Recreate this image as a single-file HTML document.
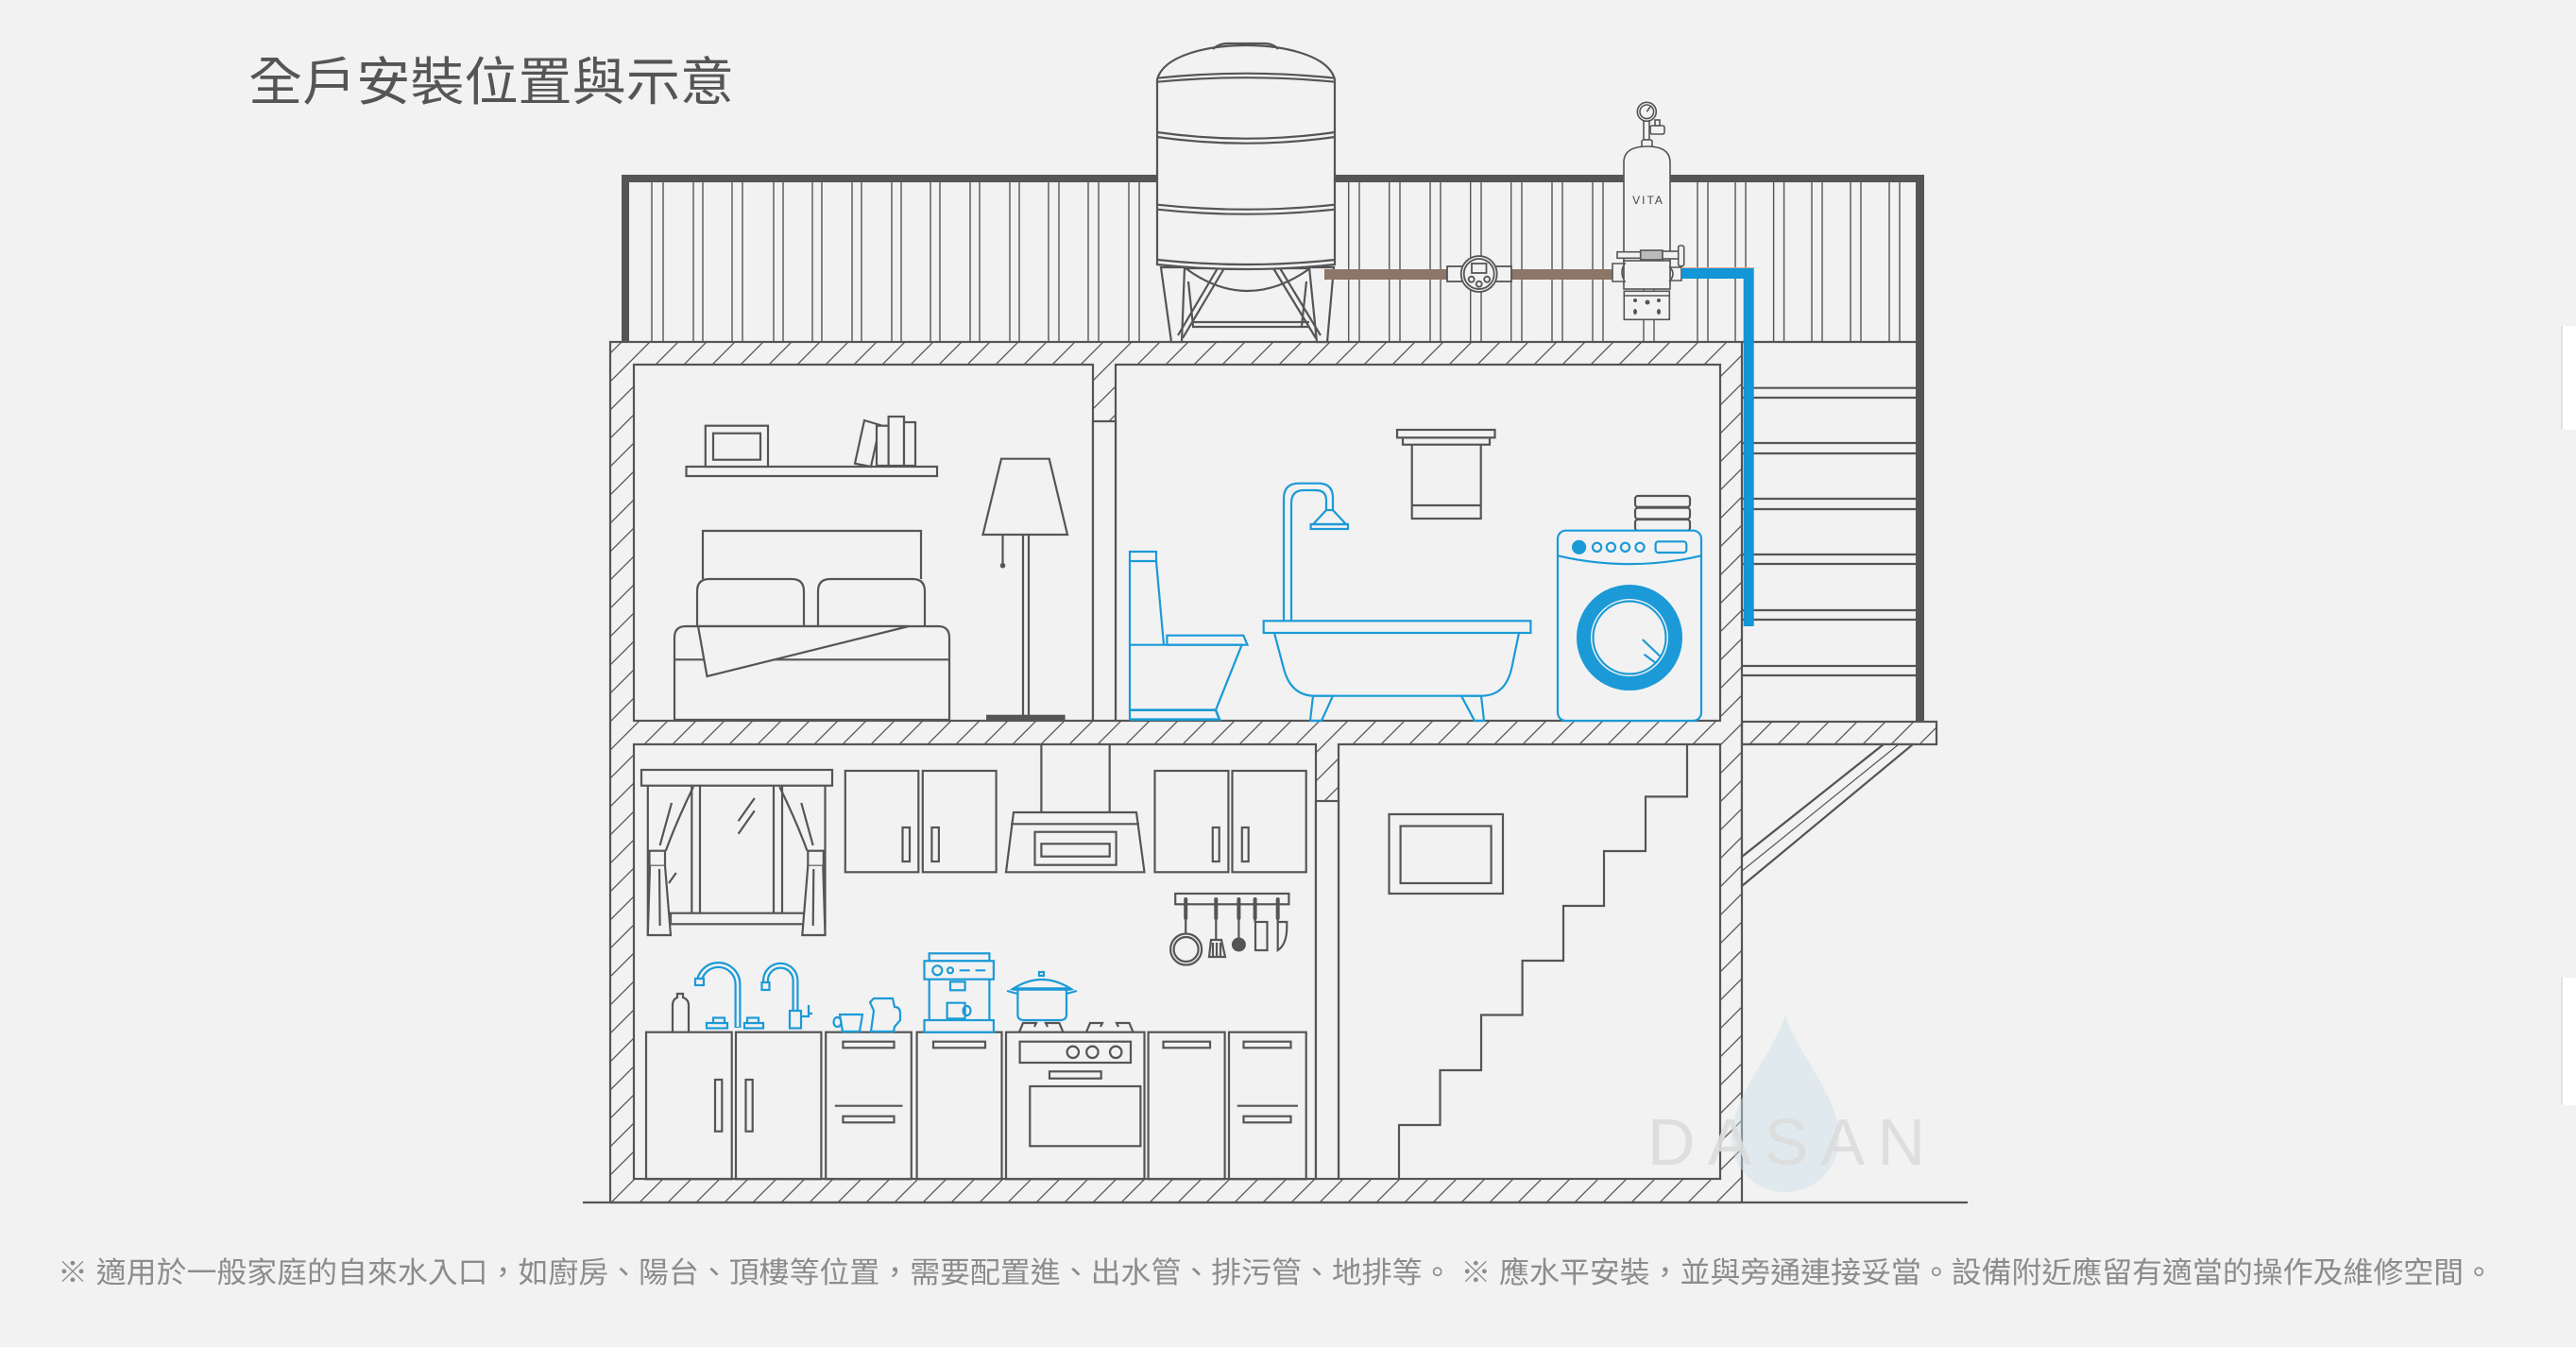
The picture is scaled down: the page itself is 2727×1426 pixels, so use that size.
<!DOCTYPE html>
<html><head><meta charset="utf-8">
<style>
html,body{margin:0;padding:0;background:#f2f2f2;width:2727px;height:1426px;overflow:hidden}
svg{display:block}
</style></head><body>
<svg width="2727" height="1426" viewBox="0 0 2727 1426" xmlns="http://www.w3.org/2000/svg">
<defs>
<pattern id="h" patternUnits="userSpaceOnUse" width="30" height="30">
<path d="M-5,35 L35,-5 M-5,5 L5,-5 M25,35 L35,25" stroke="#555" stroke-width="1.3" fill="none"/>
</pattern>
</defs>
<rect width="2727" height="1426" fill="#f2f2f2"/>

<!-- right edge strips -->
<rect x="2712" y="345" width="15" height="110" fill="#fff"/>
<line x1="2712" y1="345" x2="2712" y2="455" stroke="#e2e2e2" stroke-width="2"/>
<rect x="2712" y="1035" width="15" height="135" fill="#fff"/>
<line x1="2712" y1="1035" x2="2712" y2="1170" stroke="#e2e2e2" stroke-width="2"/>

<!-- title -->
<text x="263" y="106" font-family="'Liberation Sans','Noto Sans CJK TC',sans-serif" font-size="55" fill="#555" textLength="514" lengthAdjust="spacingAndGlyphs">全戶安裝位置與示意</text>

<!-- railing verticals -->
<path stroke="#555" stroke-width="1.4" fill="none" d="M690,193V362M702,193V362M734,193V362M744,193V362M775,193V362M786,193V362M819,193V362M829,193V362M860,193V362M870,193V362M902,193V362M912,193V362M944,193V362M954,193V362M985,193V362M995,193V362M1027,193V362M1037,193V362M1069,193V362M1079,193V362M1110,193V362M1121,193V362M1152,193V362M1163,193V362M1195,193V362M1206,193V362M1427.7,193V362M1439,193V362M1470.7,193V362M1482,193V362M1514,193V362M1525,193V362M1556.7,193V362M1568,193V362M1599.7,193V362M1611,193V362M1643,193V362M1654,193V362M1686,193V362M1697,193V362M1740,193V362M1751,193V362M1797,193V362M1808,193V362M1837,193V362M1848,193V362M1877.6,193V362M1888.6,193V362M1918,193V362M1929,193V362M1959,193V362M1970,193V362M2000,193V362M2011,193V362"/>
<!-- railing frame -->
<rect x="658" y="185" width="1379" height="8" fill="#555"/>
<rect x="658" y="185" width="8" height="177" fill="#555"/>
<rect x="2028" y="185" width="9" height="579" fill="#555"/>
<line x1="1844" y1="362" x2="2028" y2="362" stroke="#555" stroke-width="2.2"/>

<!-- ladder bars -->
<path stroke="#555" stroke-width="2.2" fill="none" d="M1844,410.7H2028M1844,421H2028M1844,469H2028M1844,480H2028M1844,528H2028M1844,539H2028M1844,587H2028M1844,597H2028M1844,646H2028M1844,656H2028M1844,705H2028M1844,715H2028"/>

<!-- house -->
<g stroke="#555" stroke-width="2.2">
<rect x="646" y="362" width="1198" height="911" fill="url(#h)"/>
<rect x="671" y="386" width="486" height="377" fill="#f2f2f2"/>
<rect x="1181" y="386" width="640" height="377" fill="#f2f2f2"/>
<rect x="1157" y="446" width="24" height="317" fill="#f2f2f2"/>
<rect x="671" y="788" width="722" height="460" fill="#f2f2f2"/>
<rect x="1417" y="788" width="404" height="460" fill="#f2f2f2"/>
<rect x="1393" y="848" width="24" height="400" fill="#f2f2f2"/>
<rect x="1844" y="764" width="206" height="24" fill="url(#h)"/>
<path d="M1844,788 H1994 L1844,907 Z" fill="#f2f2f2"/>
<path d="M1994,788 H2025 L1844,938 V907 Z" fill="#f2f2f2"/>
<line x1="2010" y1="788" x2="1844" y2="922" stroke-width="1.2"/>
<line x1="617" y1="1273" x2="2083" y2="1273"/>
</g>

<!-- tank -->
<g stroke="#555" stroke-width="2.2" fill="#f2f2f2">
<line x1="1258" y1="298" x2="1263" y2="345" fill="none"/>
<line x1="1383" y1="298" x2="1378" y2="345" fill="none"/>
<path d="M1255,284 Q1320,332 1387,284 Z"/>
<path d="M1229,283 H1254 L1251,362 H1240 Z"/>
<path d="M1386,283 H1412 L1405,362 H1394 Z"/>
<path d="M1296,284 L1252,358 M1289,284 L1247,355 M1348,284 L1393,358 M1355,284 L1398,355" fill="none"/>
<path d="M1262,341 H1386 M1262,346 H1386" fill="none"/>
<path d="M1225,280 V84 C1232,58 1280,48 1319,48 C1358,48 1406,58 1413,84 V280 Q1319,290 1225,280 Z"/>
<path d="M1284,52 Q1290,46 1300,46 H1338 Q1348,46 1353,52" fill="none"/>
<path fill="none" d="M1225,82.7 Q1319,72.7 1413,82.7 M1225,86.7 Q1319,77.7 1413,86.7 M1225,140 Q1319,153.4 1413,140 M1225,145 Q1319,158.4 1413,145 M1225,216.7 Q1319,226.7 1413,216.7 M1225,221.7 Q1319,231.7 1413,221.7 M1225,275 Q1319,285 1413,275"/>
</g>

<!-- brown pipe & meter -->
<rect x="1402" y="285" width="306" height="11" fill="#8c7667"/>
<g stroke="#555" stroke-width="1.8" fill="#f2f2f2">
<rect x="1532" y="282" width="68" height="16"/>
<circle cx="1565.7" cy="290" r="19"/>
<circle cx="1565.7" cy="290" r="16" fill="none"/>
<rect x="1558" y="279" width="15.5" height="10"/>
<circle cx="1557.7" cy="295.7" r="3"/>
<circle cx="1565.7" cy="300.7" r="3"/>
<circle cx="1574.2" cy="295.7" r="3"/>
</g>

<!-- filter -->
<g stroke="#555" stroke-width="1.6" fill="#f2f2f2">
<rect x="1740" y="127" width="6" height="21"/>
<rect x="1747" y="133" width="15" height="9" rx="2"/>
<rect x="1752" y="127" width="5" height="6"/>
<circle cx="1743.3" cy="118.3" r="10"/>
<circle cx="1743.3" cy="118.3" r="7.3"/>
<line x1="1743.3" y1="118.3" x2="1747" y2="113"/>
<rect x="1738" y="148" width="11" height="8" rx="2"/>
<path d="M1719,300 V172 Q1719,155 1743.8,155 Q1768,155 1768,172 V300 Z"/>
<rect x="1719" y="276" width="49" height="30"/>
<path d="M1707,279 H1720 Q1714,288 1720,298 H1707 Z"/>
<path d="M1768,283 Q1774,290 1768,297 H1780 V283 Z"/>
<rect x="1712" y="266.7" width="25" height="6.6"/>
<rect x="1736.7" y="265" width="23.3" height="10" fill="#bbb"/>
<rect x="1760" y="266" width="17" height="8"/>
<rect x="1776.7" y="260" width="6" height="21.7" rx="2"/>
<rect x="1719.3" y="308.3" width="48" height="30"/>
<line x1="1719.3" y1="313" x2="1767.3" y2="313"/>
</g>
<g fill="#555">
<circle cx="1731" cy="318" r="2"/><circle cx="1744" cy="320" r="2.5"/><circle cx="1756" cy="318" r="2"/>
<ellipse cx="1731" cy="330" rx="2" ry="3"/><ellipse cx="1756" cy="330" rx="2" ry="3"/>
</g>
<text x="1745" y="216" text-anchor="middle" font-family="'Liberation Sans',sans-serif" font-size="12" letter-spacing="2" fill="#444">VITA</text>

<!-- blue pipe -->
<path d="M1780,284 H1856.7 V663 H1845.7 V295 H1780 Z" fill="#1296d6"/>
<line x1="1780" y1="283.5" x2="1857" y2="283.5" stroke="#e6a58e" stroke-width="1"/>

<!-- bedroom -->
<g stroke="#555" stroke-width="2.2" fill="#f2f2f2">
<rect x="726.5" y="494" width="265.5" height="10"/>
<rect x="746.8" y="450.7" width="66.2" height="43.3"/>
<rect x="755" y="458.7" width="50" height="28"/>
<path d="M915,445 L931.7,450 L922,494 L905,490.7 Z"/>
<rect x="928" y="450.7" width="12.6" height="42.3"/>
<rect x="940.6" y="441" width="16.4" height="52"/>
<rect x="957" y="447" width="12" height="46"/>
<path d="M744,613 V562 H975 V613" fill="none"/>
<path d="M738,663 V626 Q738,613 751,613 H838 Q851,613 851,626 V663"/>
<path d="M866,663 V626 Q866,613 879,613 H966 Q979,613 979,626 V663"/>
<path d="M714,762 V675 Q714,663 726,663 H993 Q1005,663 1005,675 V762 Z"/>
<line x1="714" y1="698.3" x2="1005" y2="698.3"/>
<path d="M739,663 L962,663 L748.5,716 Z"/>
<path d="M1060,485.7 H1110.7 L1130,566 H1040.5 Z"/>
<path d="M1083,566 V757 M1089,566 V757 M1061.5,566 V597" fill="none"/>
</g>
<circle cx="1061.5" cy="598.7" r="2.8" fill="#555"/>
<rect x="1044" y="756.7" width="83.6" height="6.5" fill="#555"/>

<!-- bathroom -->
<g stroke="#555" stroke-width="2.2" fill="#f2f2f2">
<rect x="1494.7" y="466" width="73" height="83"/>
<line x1="1494.7" y1="535" x2="1567.7" y2="535"/>
<rect x="1485" y="463.3" width="92" height="7.4"/>
<rect x="1479" y="455" width="103.5" height="8.3"/>
<rect x="1731" y="525" width="58" height="11.7" rx="3"/>
<rect x="1731" y="537.7" width="58" height="11.7" rx="3"/>
<rect x="1731" y="550" width="58" height="11.7" rx="3"/>
</g>
<g stroke="#1b9ad7" stroke-width="2.2" fill="none">
<rect x="1196" y="584" width="28" height="10"/>
<path d="M1196,594 V761.7 M1224,594 L1232,682.7"/>
<path d="M1235.4,682.7 V672.7 H1316.3 L1320.5,682.7 Z"/>
<path d="M1196,682.7 H1314.6 L1287,751.7"/>
<path d="M1196,751.7 H1287 L1291,761.7 H1196" stroke-width="2.6"/>
<path d="M1359,657 V528 Q1359,511.7 1375,511.7 H1396 Q1411,511.7 1411,527 V540"/>
<path d="M1367,657 V533 Q1367,519 1380,519 H1393 Q1404,519 1404,530 V540"/>
<path d="M1404,540 H1411 L1425,555 H1390 Z"/>
<rect x="1387.6" y="555" width="39.4" height="5"/>
<rect x="1337.7" y="657.3" width="282.7" height="12.7" fill="#f2f2f2"/>
<path d="M1349,670 L1358.7,706.7 Q1366,736.7 1392,736.7 H1568 Q1594,736.7 1600.4,706.7 L1608,670"/>
<path d="M1390,736.7 H1411 L1399,763 H1387 Z"/>
<path d="M1547,736.7 H1568 L1571,763 H1561 Z"/>
<rect x="1649" y="561.7" width="152" height="201.3" rx="8.6" fill="#f2f2f2"/>
<path d="M1649,588.3 Q1725,606 1801,588.3"/>
<circle cx="1690.6" cy="579.3" r="4.6"/>
<circle cx="1705.4" cy="579.3" r="4.6"/>
<circle cx="1720.5" cy="579.3" r="4.6"/>
<circle cx="1736" cy="579.3" r="4.6"/>
<rect x="1752.6" y="573.3" width="32.7" height="11.7" rx="3"/>
<circle cx="1725" cy="675" r="48.5" stroke-width="15"/>
<circle cx="1725" cy="675" r="38.5"/>
<path d="M1738.8,677 L1757.7,695 M1740.5,692.7 L1752.6,701.7"/>
</g>
<circle cx="1671.6" cy="579.3" r="7.6" fill="#1b9ad7"/>

<!-- kitchen -->
<g stroke="#555" stroke-width="2.2" fill="none">
<rect x="679" y="815" width="202" height="16.7" fill="#f2f2f2"/>
<path d="M685.8,831.7 V990 M873.5,831.7 V990"/>
<path d="M732.3,831.7 V966.7 M741,831.7 V966.7 M819,831.7 V966.7 M828,831.7 V966.7"/>
<rect x="710" y="966.7" width="141" height="11.6"/>
<path d="M734,833 Q716,870 704.8,900.7"/>
<rect x="687.5" y="900.7" width="16.5" height="16" fill="#f2f2f2"/>
<path d="M688,916.7 L685.8,990 H710 L704,916.7" fill="#f2f2f2"/>
<path d="M711,850 L698.6,895 M698,920 L698.6,980 M715.8,924 L708,935"/>
<path d="M825.3,833 Q843.3,870 854.5,900.7"/>
<rect x="855.3" y="900.7" width="16.5" height="16" fill="#f2f2f2"/>
<path d="M871.3,916.7 L873.5,990 H849.3 L855.3,916.7" fill="#f2f2f2"/>
<path d="M848.3,850 L860.7,895 M861.3,920 L860.7,980"/>
<path d="M798.8,845 L781.6,869.3 M798.8,858.3 L781.6,882.7"/>
<rect x="894.8" y="816" width="77.5" height="107.3"/>
<rect x="976.8" y="816" width="77.8" height="107.3"/>
<rect x="955.5" y="876" width="7.5" height="36"/>
<rect x="986.4" y="876" width="7.5" height="36"/>
<path d="M1102.4,788 V860 M1174.7,788 V860"/>
<path d="M1073,860 H1203 L1211.5,923.3 H1065 Z"/>
<line x1="1070" y1="872.3" x2="1206" y2="872.3"/>
<rect x="1095.5" y="880.7" width="86.1" height="35"/>
<rect x="1102.4" y="893.3" width="72.3" height="13.4"/>
<rect x="1222.5" y="816" width="77.9" height="107.3"/>
<rect x="1304.5" y="816" width="78.2" height="107.3"/>
<rect x="1283.8" y="876" width="6.9" height="36"/>
<rect x="1314.8" y="876" width="6.9" height="36"/>
<rect x="1244.2" y="946" width="120.2" height="11.3"/>
<path d="M1255.2,973 V989 M1287.3,973 V995 M1311.4,973 V993 M1328.6,973 V976 M1352.7,973 V976"/>
<circle cx="1255.6" cy="1005" r="16.5"/>
<circle cx="1255.6" cy="1005" r="13"/>
<path d="M1282,995 H1293 L1297,1013 H1280 Z M1284,998 V1012 M1288,998 V1012 M1292,998 V1012"/>
<rect x="1329" y="976" width="12.5" height="30"/>
<path d="M1352.7,976 V1006 Q1362,1000 1362.3,982 V976 Z"/>
<rect x="684" y="1092.7" width="90.7" height="155.6"/>
<rect x="779" y="1092.7" width="90.4" height="155.6"/>
<rect x="757" y="1143" width="7.3" height="54.7"/>
<rect x="789.5" y="1143" width="7.2" height="54.7"/>
<rect x="874.2" y="1092.7" width="90.6" height="155.6"/>
<rect x="892.4" y="1102.7" width="54.1" height="6.6"/>
<line x1="883.8" y1="1170.7" x2="955.5" y2="1170.7"/>
<rect x="892.4" y="1181.7" width="54.1" height="6.6"/>
<rect x="970.6" y="1092.7" width="89.9" height="155.6"/>
<rect x="988" y="1102.7" width="55" height="6.6"/>
<rect x="1065" y="1092.7" width="146.5" height="155.6"/>
<rect x="1079.6" y="1102.7" width="117.4" height="22.3"/>
<circle cx="1135.8" cy="1113.8" r="6.2"/>
<circle cx="1156.4" cy="1113.8" r="6.2"/>
<circle cx="1181.2" cy="1113.8" r="6.2"/>
<rect x="1111" y="1134.3" width="54.7" height="7.4"/>
<rect x="1090.3" y="1150" width="117.1" height="63.3"/>
<rect x="1215.6" y="1092.7" width="81" height="155.6"/>
<rect x="1231.5" y="1102.7" width="49.5" height="6.6"/>
<rect x="1301" y="1092.7" width="81.7" height="155.6"/>
<rect x="1316.5" y="1102.7" width="50" height="6.6"/>
<line x1="1309.7" y1="1170.7" x2="1374" y2="1170.7"/>
<rect x="1316.5" y="1181.7" width="50" height="6.6"/>
<path d="M712,1092 V1064 Q712,1058 717,1056 V1052 H723 V1056 Q729,1058 729,1064 V1092"/>
<path d="M1079,1092.7 L1083,1083 H1097 L1095,1087 M1125.4,1092.7 L1121.4,1083 H1107 L1109,1087"/>
<path d="M1150,1092.7 L1154,1083 H1167 L1165,1087 M1199.5,1092.7 L1195.5,1083 H1182 L1184,1087"/>
</g>
<g stroke="#555" stroke-width="4" stroke-linecap="round">
<path d="M1255.2,952 V972 M1287.3,952 V972 M1311.4,952 V972 M1328.6,952 V972 M1352.7,952 V972"/>
</g>
<circle cx="1311.4" cy="1000" r="7.5" fill="#555"/>

<!-- blue kitchen items -->
<g stroke="#1b9ad7" stroke-width="7" fill="none">
<path d="M781,1088 V1042 A20.5,20.5 0 0 0 740,1042 V1044"/>
<path d="M842,1072 V1038 A15.75,15.75 0 0 0 810.5,1038 V1043"/>
</g>
<g stroke="#f2f2f2" stroke-width="2.6" fill="none">
<path d="M781,1087 V1042 A20.5,20.5 0 0 0 740,1042 V1044"/>
<path d="M842,1071 V1038 A15.75,15.75 0 0 0 810.5,1038 V1043"/>
</g>
<g stroke="#1b9ad7" stroke-width="2.2" fill="#f2f2f2">
<rect x="736" y="1036" width="9" height="7"/>
<rect x="806.5" y="1040" width="8" height="8"/>
<rect x="748" y="1083" width="22" height="5.5"/>
<rect x="755" y="1077.5" width="12" height="5.5"/>
<rect x="788" y="1083" width="20" height="5.5"/>
<rect x="791" y="1077.5" width="12" height="5.5"/>
<rect x="836" y="1070" width="12" height="18.5"/>
<path d="M848,1076 H856 V1064 M856,1073 H860" fill="none"/>
<path d="M889,1074 H913 L910,1092 H892 Z"/>
<ellipse cx="886.5" cy="1082" rx="4" ry="5" fill="none"/>
<path d="M925,1057 H945 L947,1066 Q953,1066 953,1073 V1080 L947,1087 L946,1092 H922 L925,1070 L921,1061 Z"/>
<rect x="983.7" y="1009.3" width="63.7" height="8"/>
<rect x="978.5" y="1017.3" width="73.4" height="19.4"/>
<circle cx="992.3" cy="1027.3" r="5"/>
<circle cx="1006" cy="1027.3" r="3"/>
<path d="M1015.7,1027.3 H1026.7 M1032.6,1027.3 H1043.2" fill="none"/>
<path d="M983.7,1036.7 V1080 M1047.4,1036.7 V1080" fill="none"/>
<rect x="1006" y="1039.3" width="15.6" height="9"/>
<path d="M1002.6,1061.7 H1021.6 V1078.3 H1002.6 Z"/>
<ellipse cx="1023.5" cy="1070" rx="4" ry="5" fill="none"/>
<rect x="978.5" y="1080" width="73.4" height="12.7"/>
<path d="M1077.4,1047 V1074 Q1077.4,1080 1084,1080 H1122 Q1129,1080 1129,1074 V1047"/>
<path d="M1072,1047 Q1103,1027 1134,1047 Z"/>
<rect x="1100" y="1029" width="5" height="4"/>
<path d="M1066,1049 L1077,1052 M1129,1052 L1140,1049" fill="none"/>
</g>
<line x1="1072" y1="1047" x2="1134" y2="1047" stroke="#1b9ad7" stroke-width="3.5"/>

<!-- stair room -->
<g stroke="#555" stroke-width="2.2" fill="none">
<path d="M1786,788 V843.4 H1742 V901 H1698 V959 H1655 V1017 H1611.6 V1074.5 H1568 V1133 H1524.5 V1191 H1481 V1248"/>
<rect x="1470.5" y="862" width="120.5" height="84"/>
<rect x="1482.6" y="874.5" width="96" height="60.5"/>
</g>

<!-- watermark -->
<path d="M1890,1074 C1880,1112 1833,1160 1833,1205 A57,57 0 0 0 1947,1205 C1947,1160 1900,1112 1890,1074 Z" fill="#c9dde6" opacity="0.45"/>
<text x="1744" y="1233" font-family="'Liberation Sans',sans-serif" font-size="70" fill="#dcdcdc" opacity="0.9" textLength="294" lengthAdjust="spacing">DASAN</text>

<!-- bottom note -->
<text x="61" y="1358" font-family="'Liberation Sans','Noto Sans CJK TC',sans-serif" font-size="31" fill="#8c8c8c" textLength="2579" lengthAdjust="spacingAndGlyphs">※ 適用於一般家庭的自來水入口，如廚房、陽台、頂樓等位置，需要配置進、出水管、排污管、地排等。 ※ 應水平安裝，並與旁通連接妥當。設備附近應留有適當的操作及維修空間。</text>
</svg>
</body></html>
